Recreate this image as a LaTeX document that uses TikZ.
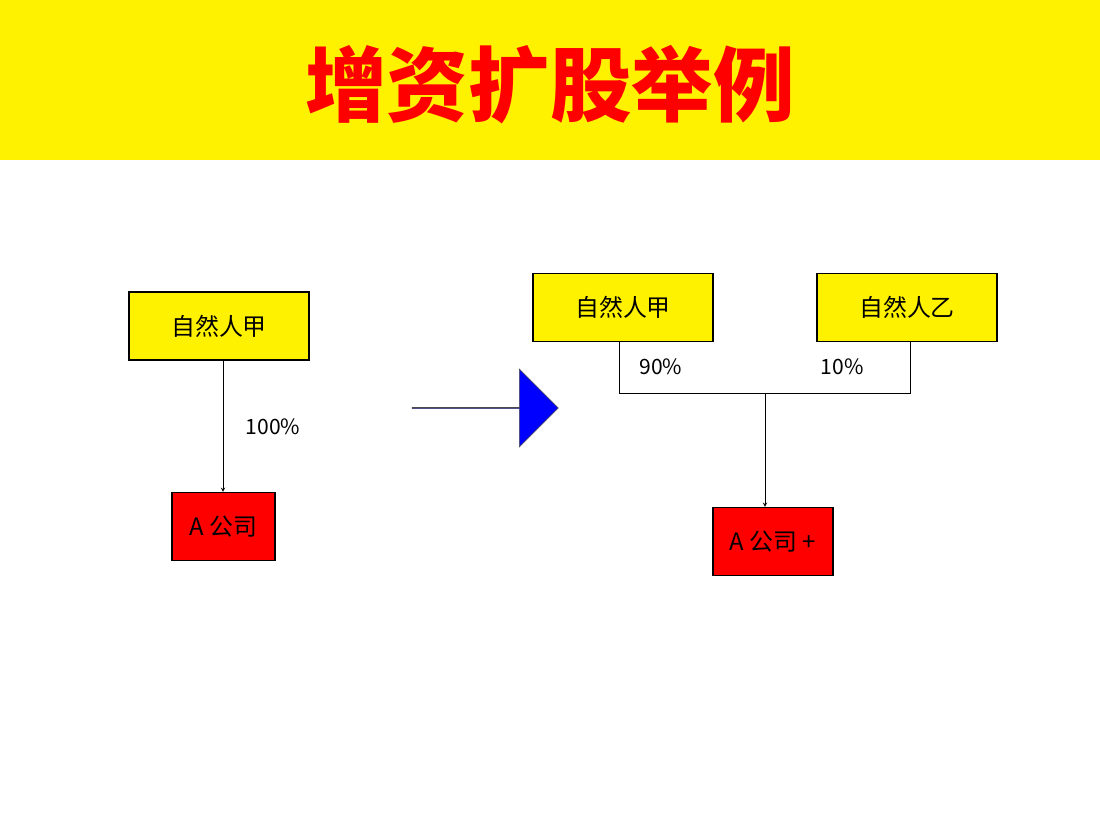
\documentclass[tikz,border=0pt]{standalone}
\usepackage{fontspec}
\setmainfont{Noto Sans CJK SC}
\usetikzlibrary{shapes.arrows}
\begin{document}
\begin{tikzpicture}[x=0.025cm,y=-0.025cm,
  person/.style={draw,thick,fill=yellow,minimum width=4.5cm,minimum height=1.7cm,font=\fontsize{17}{20}\selectfont},
  company/.style={draw,thick,fill=red,minimum height=1.7cm,font=\fontsize{17}{20}\selectfont},
  share/.style={font=\fontsize{15}{18}\selectfont},
  every path/.style={>=stealth}]
  \useasboundingbox (0,0) rectangle (1100,825);
  \fill[yellow] (0,0) rectangle (1100,160);
  \node[text=red,font=\fontsize{58}{64}\selectfont\bfseries] (title) at (550,85) {增资扩股举例};
  % before
  \node[person] (jia) at (219,326) {自然人甲};
  \node[company,minimum width=2.575cm] (a) at (223.5,526.5) {A 公司};
  \draw[->] (jia.south -| 223,0) -- (a.north -| 223,0);
  \node[share] (p100) at (273,427) {100\%};
  % arrow
  \node[single arrow,draw=black!70,fill=blue,minimum height=3.65cm,minimum width=1.95cm,
        single arrow head extend=0.5cm,inner sep=0pt] (go) at (485,408) {};
  % after
  \node[person] (jia2) at (623,307.5) {自然人甲};
  \node[person] (yi) at (907,307.5) {自然人乙};
  \node[company,minimum width=3cm] (aplus) at (773,541.5) {A 公司 +};
  \coordinate (mid) at (765,393);
  \draw (jia2.south -| 619,0) |- (mid) -| (yi.south -| 910,0);
  \draw[->] (mid) -- (aplus.north -| 765,0);
  \node[share] (p90) at (661,367) {90\%};
  \node[share] (p10) at (842,367) {10\%};
\end{tikzpicture}
\end{document}
